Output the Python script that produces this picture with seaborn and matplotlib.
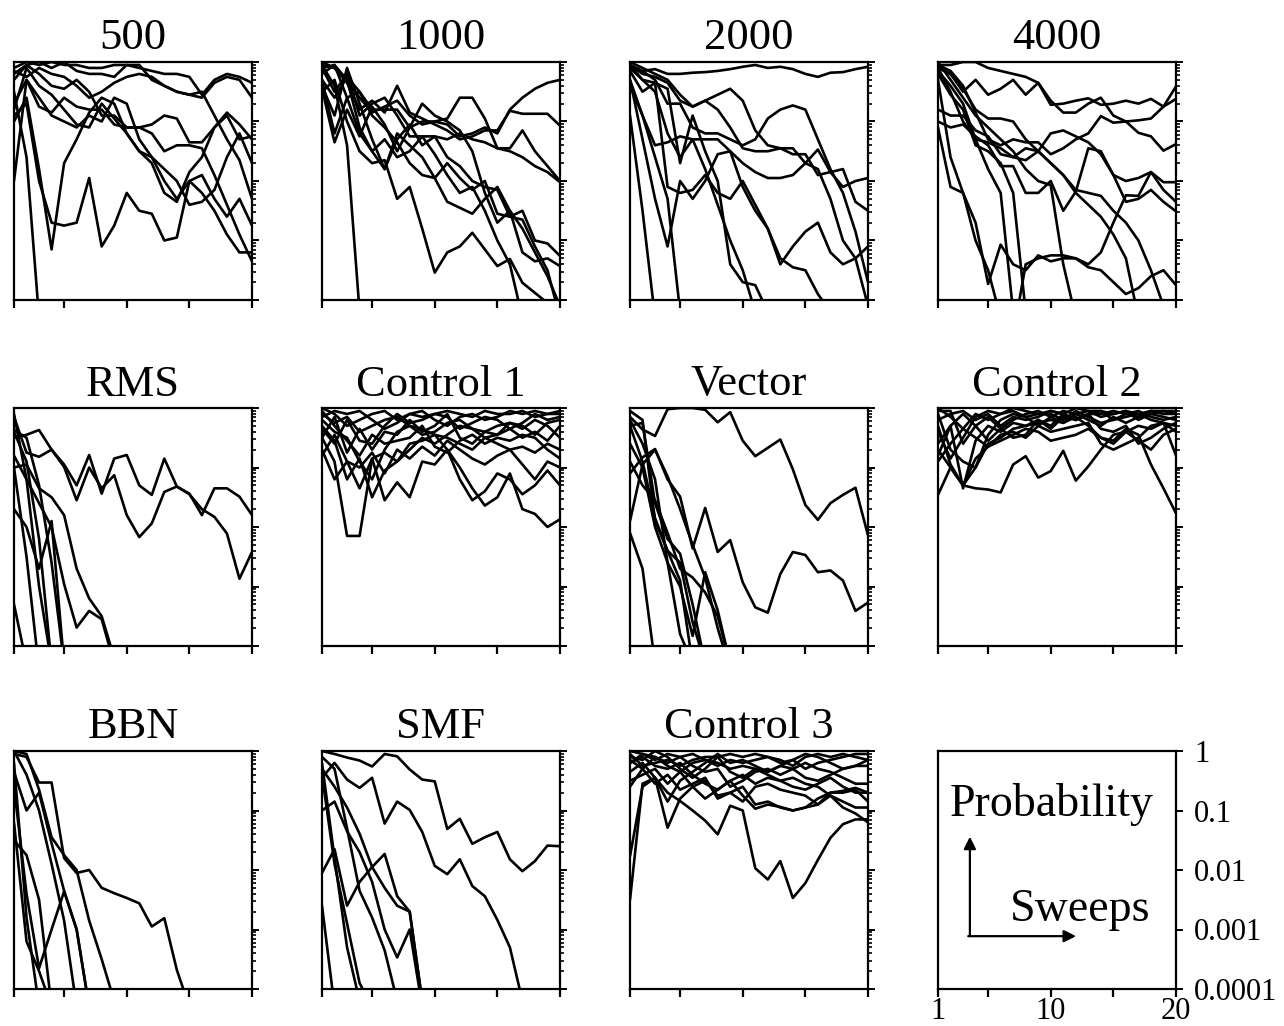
import numpy as np
import pandas as pd
import matplotlib
matplotlib.use("Agg")
import matplotlib.pyplot as plt
from matplotlib.ticker import LogLocator, NullFormatter, FixedLocator
import seaborn as sns

# Sweep index shared by every run
SWEEPS = list(range(1, 21))

# log10 of the probability per sweep, one row per run.
# Runs that die out end with a value below 1e-4 and stop there.
LOGP_500 = [
    [-0.1, 0.0, -0.05, 0.0, -0.05, -0.05, -0.1, -0.1, -0.05, -0.05, -0.1, -0.15, -0.2, -0.2, -0.25, -0.55, -0.3, -0.2, -0.25, -0.35],
    [-0.2, -0.05, 0.0, -0.1, 0.0, -0.15, -0.2, -0.2, -0.25, -0.05, -0.05, -0.3, -0.4, -0.5, -0.55, -0.6, -0.35, -0.25, -0.3, -0.6],
    [-0.7, -0.3, -0.75, -0.85, -0.6, -0.75, -0.8, -0.8, -1.05, -1.1, -1.1, -1.05, -0.9, -0.95, -1.35, -1.35, -1.1, -0.85, -1.05, -1.3],
    [-0.5, -1.6, -4.3],
    [-1.0, -0.6, -1.8, -3.15, -1.7, -1.3, -0.85, -0.6, -0.7, -1.2, -1.5, -1.6, -2.0, -2.3, -2.0, -2.2, -2.5, -2.9, -3.2, -3.2],
    [-0.9, -0.7, -2.0, -2.7, -2.75, -2.7, -1.95, -3.1, -2.75, -2.2, -2.5, -2.55, -3.0, -2.95, -2.0, -1.9, -2.3, -2.6, -2.3, -2.75],
    [-2.0, -0.3, -0.6, -0.9, -1.0, -1.1, -0.9, -1.0, -0.6, -0.7, -1.3, -1.6, -1.8, -2.0, -2.4, -2.35, -2.15, -1.6, -1.2, -1.7],
    [-0.8, -0.1, -0.4, -0.55, -0.8, -1.05, -1.1, -0.7, -0.95, -1.2, -1.5, -1.7, -2.2, -2.35, -1.85, -1.6, -1.1, -0.9, -1.3, -1.25],
    [-0.3, -0.05, -0.2, -0.4, -0.45, -0.3, -0.5, -0.9, -0.9, -1.1, -1.1, -1.2, -1.5, -1.4, -1.4, -1.45, -1.9, -2.4, -2.9, -3.35],
    [-0.15, -0.25, -0.1, -0.2, -0.25, -0.4, -0.6, -0.5, -0.35, -0.25, -0.2, -0.25, -0.4, -0.5, -0.55, -0.5, -0.9, -1.3, -1.65, -2.3],
]

LOGP_1000 = [
    [-0.1, -0.05, -0.3, -0.6, -0.85, -0.75, -0.65, -0.9, -1.05, -1.0, -0.95, -0.6, -0.6, -0.95, -1.45, -1.45, -1.15, -1.5, -1.75, -2.0],
    [-0.3, -0.6, -0.25, -0.5, -0.8, -0.8, -0.8, -1.1, -1.0, -1.0, -1.05, -1.25, -1.2, -1.1, -1.2, -0.8, -0.6, -0.45, -0.35, -0.3],
    [-0.05, -0.1, -0.35, -0.8, -0.65, -0.85, -0.4, -0.85, -0.95, -1.05, -1.15, -1.3, -1.25, -1.15, -1.15, -0.82, -0.87, -0.87, -0.87, -1.07],
    [0.0, -0.1, -0.3, -1.1, -1.5, -1.8, -1.3, -1.05, -1.4, -1.25, -1.6, -1.75, -2.0, -2.1, -2.15, -2.6, -2.65, -3.1, -3.5, -4.3],
    [-0.2, -0.05, -0.6, -1.2, -1.5, -1.3, -1.6, -1.5, -1.25, -1.55, -1.9, -2.2, -2.1, -2.5, -3.0, -3.4, -4.3],
    [-0.4, -0.9, -0.1, -0.7, -1.3, -1.8, -1.2, -1.4, -1.6, -1.95, -2.35, -2.45, -2.55, -2.3, -2.1, -2.5, -3.2, -3.35, -3.3, -3.43],
    [-0.5, -0.3, -1.0, -1.5, -1.7, -1.65, -2.3, -2.1, -2.8, -3.54, -3.2, -3.1, -2.87, -3.15, -3.43, -3.31, -3.71, -3.88, -4.05],
    [-0.05, -0.4, -1.4, -4.2],
    [-0.3, -1.2, -0.6, -0.5, -0.9, -1.1, -1.35, -1.7, -1.9, -1.95, -1.7, -1.95, -2.15, -2.0, -2.55, -2.6, -2.5, -3.0, -3.05, -3.26],
    [-0.45, -1.35, -0.8, -1.25, -0.75, -1.05, -1.5, -1.1, -0.7, -0.9, -1.0, -1.15, -1.5, -2.2, -2.7, -2.5, -2.8, -3.2, -3.6, -4.1],
    [-0.1, -0.5, -0.2, -0.9, -0.7, -0.6, -0.9, -1.25, -1.25, -1.25, -1.3, -1.2, -1.3, -1.35, -1.45, -1.5, -1.6, -1.75, -1.85, -2.02],
]

LOGP_2000 = [
    [-0.05, -0.15, -0.12, -0.2, -0.2, -0.18, -0.17, -0.15, -0.12, -0.08, -0.05, -0.1, -0.08, -0.12, -0.2, -0.25, -0.18, -0.17, -0.12, -0.08],
    [-0.05, -0.2, -0.25, -0.35, -0.65, -0.75, -0.65, -0.55, -0.45, -0.65, -1.15, -1.4, -1.45, -1.55, -1.55, -1.9, -1.85, -1.8, -2.35, -2.5],
    [-0.1, -0.15, -0.3, -0.7, -0.7, -1.1, -1.2, -1.2, -1.3, -1.4, -1.3, -0.95, -0.8, -0.73, -0.8, -1.3, -1.8, -2.2, -2.85, -3.7],
    [-0.4, -0.9, -1.4, -1.35, -1.25, -1.3, -1.3, -1.3, -1.5, -1.7, -1.85, -1.95, -1.95, -1.9, -1.7, -1.47, -1.85, -2.1, -2.0, -1.95],
    [-0.1, -0.3, -0.35, -2.1, -2.2, -2.15, -1.9, -2.2, -2.3, -2.0, -2.4, -2.8, -3.4, -3.1, -2.85, -2.7, -3.2, -3.4, -3.3, -3.1],
    [-0.9, -2.5, -4.3],
    [-0.3, -1.3, -2.3, -3.1, -2.0, -2.3, -2.0, -1.55, -1.5, -2.1, -2.5, -2.8, -3.3, -3.45, -3.5, -3.9, -4.2],
    [-0.15, -0.5, -0.35, -0.45, -1.7, -0.9, -1.5, -2.0, -3.4, -3.7, -3.75, -4.2],
    [-0.3, -0.9, -1.6, -2.3, -4.2],
    [-0.05, -0.3, -0.5, -1.2, -1.6, -1.3, -1.8, -2.4, -3.0, -3.5, -4.2],
    [0.0, -0.1, -0.2, -0.3, -0.55, -0.75, -0.65, -0.8, -1.1, -1.45, -1.5, -1.5, -1.45, -1.45, -1.7, -1.8, -2.3, -3.0, -3.3, -4.1],
]

LOGP_4000 = [
    [-0.05, -0.05, 0.0, 0.0, -0.1, -0.15, -0.2, -0.25, -0.35, -0.72, -0.7, -0.65, -0.61, -0.72, -0.7, -0.65, -0.7, -0.62, -0.75, -0.41],
    [-0.1, -0.2, -0.5, -0.3, -0.55, -0.45, -0.3, -0.55, -0.35, -0.65, -0.85, -0.85, -0.7, -0.6, -0.9, -1.0, -0.98, -0.95, -0.75, -0.62],
    [-0.05, -0.15, -0.4, -0.85, -1.3, -1.4, -1.3, -1.35, -1.35, -1.55, -1.45, -1.3, -1.2, -0.91, -1.02, -1.0, -1.19, -1.25, -1.49, -1.38],
    [-0.15, -0.4, -0.7, -1.3, -1.35, -1.45, -1.6, -1.65, -1.5, -1.2, -1.15, -1.25, -1.35, -1.55, -1.9, -2.0, -1.95, -1.85, -2.02, -2.02],
    [-1.0, -1.1, -1.05, -1.25, -1.4, -1.75, -1.75, -2.2, -2.2, -2.0, -2.5, -2.18, -1.45, -1.5, -1.9, -2.35, -2.3, -2.15, -2.35, -2.51],
    [-0.8, -0.9, -0.9, -1.15, -1.25, -1.55, -1.6, -1.45, -1.5, -1.7, -1.9, -2.15, -2.2, -2.25, -2.5, -2.7, -3.0, -3.5, -4.1],
    [-1.1, -2.1, -2.2, -2.7, -3.73, -3.07, -3.4, -3.5, -3.25, -3.35, -3.3, -3.3, -3.4, -3.2, -2.7, -2.24, -2.25, -1.85, -2.15, -2.35],
    [-0.1, -0.5, -1.0, -1.3, -1.8, -2.2, -4.2],
    [-0.2, -0.55, -0.8, -1.4, -1.5, -1.7, -2.2, -4.2],
    [0.0, -0.3, -0.6, -0.9, -1.1, -1.3, -1.5, -1.8, -2.0, -2.07, -3.4, -4.3],
    [-0.3, -1.6, -2.2, -3.0, -3.5, -4.3, -4.6, -3.4, -3.3, -3.25, -3.25, -3.3, -3.45, -3.5, -3.7, -3.9, -3.8, -3.6, -3.5, -3.75],
    [-0.1, -0.2, -0.45, -0.8, -0.95, -0.95, -1.0, -1.3, -1.5, -1.7, -1.9, -2.2, -2.4, -2.6, -2.9, -3.3, -4.3],
]

LOGP_RMS = [
    [-0.15, -0.75, -0.82, -0.7, -0.95, -1.3, -0.79, -1.44, -0.85, -0.79, -1.3, -1.46, -0.85, -1.32, -1.44, -1.8, -1.35, -1.35, -1.49, -1.8],
    [-0.5, -0.45, -0.37, -0.7, -0.99, -1.55, -1.0, -1.35, -1.13, -1.8, -2.17, -1.94, -1.41, -1.32, -1.45, -1.7, -1.83, -2.11, -2.87, -2.42],
    [-0.37, -0.5, -1.3, -2.6, -4.3],
    [-1.0, -0.95, -1.35, -1.5, -1.8, -2.7, -3.2, -3.5, -4.2],
    [-0.8, -1.2, -1.6, -2.0, -2.96, -3.69, -3.41, -3.55, -4.3],
    [-0.1, -1.2, -3.0, -4.3],
    [-1.7, -2.0, -2.7, -1.9, -4.3],
    [-0.4, -0.9, -2.2, -4.3],
    [-3.3, -4.3],
    [-1.0, -2.5, -4.4],
]

LOGP_CONTROL1 = [
    [-0.5, -0.9, -2.15, -2.15, -0.85, -0.75, -0.9, -0.7, -0.5, -0.6, -0.45, -0.3, -0.35, -0.5, -0.45, -0.35, -0.5, -0.4, -0.55, -0.3],
    [-0.7, -1.2, -0.9, -1.35, -0.85, -1.55, -1.25, -1.5, -0.9, -0.95, -0.7, -1.0, -1.35, -1.64, -1.5, -1.1, -1.7, -1.78, -2.0, -1.87],
    [-0.3, -0.55, -1.2, -0.85, -1.5, -1.05, -0.9, -0.6, -0.55, -0.45, -0.7, -1.2, -1.55, -1.4, -1.1, -1.2, -1.45, -1.3, -1.05, -1.3],
    [-0.2, -0.4, -0.5, -0.9, -1.2, -0.7, -0.4, -0.3, -0.35, -0.45, -0.5, -0.6, -0.7, -0.5, -0.6, -0.7, -0.65, -0.75, -0.6, -0.7],
    [-0.1, -0.25, -0.15, -0.4, -0.3, -0.2, -0.15, -0.3, -0.45, -0.4, -0.25, -0.2, -0.35, -0.4, -0.3, -0.25, -0.35, -0.2, -0.3, -0.5],
    [0.0, -0.1, -0.3, -0.2, -0.1, -0.05, -0.2, -0.1, -0.15, -0.1, -0.05, -0.1, -0.15, -0.05, -0.1, -0.1, -0.05, -0.15, -0.1, -0.1],
    [-0.15, -0.05, -0.1, -0.05, -0.2, -0.35, -0.25, -0.1, -0.05, -0.2, -0.3, -0.15, -0.1, -0.2, -0.15, -0.05, -0.1, -0.05, -0.1, -0.05],
    [-0.35, -0.6, -0.2, -0.55, -0.6, -0.3, -0.1, -0.25, -0.2, -0.1, -0.15, -0.35, -0.25, -0.15, -0.2, -0.35, -0.25, -0.1, -0.2, -0.15],
    [-0.05, -0.3, -0.55, -0.8, -0.45, -0.6, -0.55, -0.5, -0.3, -0.65, -0.75, -0.55, -0.45, -0.6, -0.5, -0.55, -0.45, -0.5, -0.7, -0.85],
    [-0.5, -0.15, -0.75, -0.35, -0.7, -0.4, -0.45, -0.2, -0.4, -0.3, -0.1, -0.5, -0.6, -0.4, -0.45, -0.25, -0.3, -0.45, -0.25, -0.2],
    [-0.8, -0.45, -0.9, -1.0, -0.75, -1.1, -0.7, -0.85, -0.65, -0.8, -0.55, -0.7, -0.85, -0.95, -0.8, -0.7, -0.95, -1.2, -0.9, -1.0],
]

LOGP_VECTOR = [
    [-0.15, -0.36, -0.47, -0.02, 0.0, 0.0, -0.03, -0.24, -0.07, -0.55, -0.81, -0.67, -0.53, -1.03, -1.63, -1.88, -1.6, -1.46, -1.34, -2.14],
    [-1.1, -0.83, -0.69, -1.2, -1.49, -2.36, -1.68, -2.42, -2.22, -2.93, -3.35, -3.44, -2.79, -2.42, -2.47, -2.76, -2.73, -2.9, -3.41, -3.27],
    [-0.05, -0.2, -1.9, -2.4, -2.6, -3.6, -4.3],
    [-0.3, -0.9, -1.85, -2.4, -2.9, -4.3],
    [-0.6, -1.0, -2.0, -2.6, -3.8, -4.3],
    [-0.2, -0.6, -1.2, -2.6, -3.0, -3.83, -2.76, -3.4, -4.3],
    [-0.9, -1.3, -1.55, -2.1, -2.7, -2.85, -3.1, -3.5, -4.3],
    [-1.9, -0.95, -0.7, -1.15, -1.7, -2.3, -2.85, -3.7, -4.4],
    [-2.1, -2.7, -4.3],
    [-0.3, -0.25, -1.6, -2.2, -2.45, -3.3, -4.3],
]

LOGP_CONTROL2 = [
    [-1.46, -1.0, -1.3, -1.35, -1.37, -1.42, -0.95, -0.81, -1.17, -1.06, -0.72, -1.22, -0.98, -0.7, -0.45, -0.4, -0.55, -0.7, -0.45, -0.35],
    [-0.3, -0.95, -1.3, -1.0, -0.6, -0.5, -0.35, -0.3, -0.25, -0.2, -0.25, -0.15, -0.3, -0.5, -0.55, -0.35, -0.45, -0.95, -1.35, -1.77],
    [-0.6, -0.3, -1.35, -0.55, -0.3, -0.4, -0.25, -0.3, -0.2, -0.35, -0.15, -0.2, -0.1, -0.35, -0.4, -0.3, -0.6, -0.5, -0.35, -0.25],
    [-0.1, -0.7, -0.9, -1.0, -0.45, -0.2, -0.1, -0.15, -0.1, -0.1, -0.2, -0.05, -0.15, -0.25, -0.2, -0.1, -0.15, -0.1, -0.05, -0.05],
    [-0.05, -0.05, -0.6, -0.3, -0.15, -0.35, -0.5, -0.45, -0.2, -0.3, -0.1, -0.2, -0.1, -0.05, -0.2, -0.15, -0.1, -0.2, -0.25, -0.8],
    [-0.8, -0.3, -0.1, -0.3, -0.55, -0.35, -0.2, -0.1, -0.05, -0.15, -0.05, -0.1, -0.05, -0.15, -0.1, -0.05, -0.2, -0.1, -0.15, -0.2],
    [-0.4, -0.85, -0.5, -0.15, -0.05, -0.1, -0.05, -0.15, -0.3, -0.15, -0.25, -0.1, -0.2, -0.3, -0.15, -0.25, -0.15, -0.05, -0.1, -0.1],
    [-0.2, -0.1, -0.05, -0.2, -0.1, -0.3, -0.15, -0.2, -0.15, -0.05, -0.1, -0.2, -0.1, -0.1, -0.05, -0.1, -0.05, -0.15, -0.2, -0.15],
    [-0.9, -0.6, -0.35, -0.5, -0.65, -0.45, -0.4, -0.5, -0.3, -0.4, -0.35, -0.3, -0.25, -0.6, -0.7, -0.6, -0.5, -0.3, -0.25, -0.3],
    [0.0, -0.15, -0.35, -0.1, -0.2, -0.1, 0.0, -0.05, -0.1, -0.05, -0.1, 0.0, -0.05, -0.05, -0.1, -0.05, -0.1, -0.05, -0.05, -0.1],
    [-0.7, -1.0, -1.3, -0.85, -0.65, -0.55, -0.45, -0.35, -0.4, -0.55, -0.5, -0.45, -0.35, -0.5, -0.6, -0.4, -0.3, -0.35, -0.25, -0.4],
]

LOGP_BBN = [
    [-0.05, -0.1, -0.53, -0.53, -1.8, -2.05, -2.0, -2.3, -2.39, -2.47, -2.56, -2.95, -2.81, -3.68, -4.3],
    [0.0, -0.05, -0.65, -1.45, -1.75, -2.0, -2.85, -3.5, -4.2],
    [-0.35, -1.0, -0.7, -1.55, -2.35, -3.0, -4.3],
    [-1.5, -1.75, -2.5, -4.3],
    [-1.2, -3.2, -3.7, -4.3],
    [-0.6, -2.4, -3.65, -3.0, -2.36, -3.0, -4.3],
    [-0.2, -2.8, -4.3],
    [0.0, -0.4, -1.0, -1.9, -2.85, -4.3],
]

LOGP_SMF = [
    [0.0, -0.05, -0.11, -0.16, -0.26, -0.05, -0.09, -0.31, -0.48, -0.51, -1.31, -1.14, -1.56, -1.45, -1.36, -1.82, -2.02, -1.85, -1.59, -1.6],
    [-0.45, -0.2, -0.48, -0.62, -0.45, -1.22, -0.85, -0.99, -1.36, -1.93, -2.07, -1.82, -2.27, -2.44, -2.84, -3.3, -4.2],
    [-2.05, -1.65, -2.6, -2.2, -1.95, -1.73, -2.44, -2.7, -4.2],
    [-1.0, -0.85, -1.35, -1.7, -2.2, -3.0, -3.47, -3.0, -4.3],
    [-0.3, -0.6, -0.95, -1.39, -1.95, -2.3, -2.6, -2.7, -4.2],
    [-0.2, -1.8, -3.3, -4.2],
    [-2.6, -4.3],
    [-0.4, -1.9, -2.9, -3.9, -4.3],
    [-0.1, -0.3, -1.3, -2.35, -2.8, -3.35, -4.2],
]

LOGP_CONTROL3 = [
    [-2.5, -0.55, -0.45, -0.7, -0.84, -1.0, -1.17, -1.4, -0.92, -1.0, -1.97, -2.16, -1.85, -2.47, -2.22, -1.83, -1.46, -1.23, -1.15, -1.15],
    [-1.77, -0.6, -0.45, -1.29, -0.8, -0.6, -0.5, -0.75, -0.7, -0.6, -0.9, -0.85, -0.95, -1.0, -0.95, -0.9, -0.7, -0.7, -0.65, -0.85],
    [-0.5, -0.4, -0.3, -0.55, -0.35, -0.6, -0.8, -0.65, -0.5, -0.75, -0.97, -0.9, -0.94, -1.0, -0.95, -0.8, -0.7, -0.67, -0.62, -0.7],
    [-0.2, -0.1, -0.25, -0.3, -0.2, -0.4, -0.55, -0.65, -0.5, -0.4, -0.55, -0.45, -0.5, -0.45, -0.55, -0.6, -0.75, -0.95, -1.05, -1.2],
    [-0.15, -0.3, -0.1, -0.25, -0.35, -0.2, -0.15, -0.2, -0.3, -0.25, -0.3, -0.4, -0.5, -0.6, -0.65, -0.55, -0.45, -0.6, -0.7, -0.7],
    [0.0, -0.05, -0.15, -0.05, -0.1, -0.05, -0.15, -0.25, -0.15, -0.2, -0.15, -0.1, -0.15, -0.25, -0.1, -0.05, -0.1, -0.05, -0.1, -0.15],
    [-0.1, -0.15, 0.0, -0.1, -0.3, -0.45, -0.3, -0.1, -0.35, -0.45, -0.3, -0.35, -0.25, -0.3, -0.45, -0.5, -0.4, -0.3, -0.25, -0.25],
    [-0.35, -0.2, -0.45, -0.85, -0.5, -0.35, -0.2, -0.05, -0.2, -0.15, -0.25, -0.35, -0.25, -0.15, -0.3, -0.2, -0.15, -0.1, -0.05, -0.05],
    [-0.05, -0.25, -0.2, -0.15, -0.25, -0.15, -0.1, -0.1, -0.05, -0.1, -0.05, -0.1, -0.2, -0.15, -0.05, -0.1, -0.2, -0.3, -0.25, -0.15],
    [-0.6, -0.3, -0.55, -0.4, -0.65, -0.55, -0.45, -0.8, -0.7, -0.85, -0.6, -0.55, -0.65, -0.7, -0.75, -0.9, -0.75, -0.85, -0.95, -0.95],
    [-0.2, -0.05, -0.1, -0.2, -0.1, -0.25, -0.35, -0.3, -0.6, -0.5, -0.35, -0.3, -0.4, -0.3, -0.2, -0.3, -0.35, -0.45, -0.55, -0.55],
]

TITLES = ["500", "1000", "2000", "4000",
          "RMS", "Control 1", "Vector", "Control 2",
          "BBN", "SMF", "Control 3"]
RUNS = [LOGP_500, LOGP_1000, LOGP_2000, LOGP_4000,
        LOGP_RMS, LOGP_CONTROL1, LOGP_VECTOR, LOGP_CONTROL2,
        LOGP_BBN, LOGP_SMF, LOGP_CONTROL3]

Y_TICKS = [1, 0.1, 0.01, 0.001, 0.0001]
Y_TICK_LABELS = ["1", "0.1", "0.01", "0.001", "0.0001"]
X_TICKS = [1, 5, 10, 15, 20]
X_TICK_LABELS = ["1", "", "10", "", "20"]


def long_table(runs):
    rows = []
    for run_id, run in enumerate(runs):
        if len(run) > len(SWEEPS):
            raise ValueError("run longer than sweep axis")
        for sweep, lp in zip(SWEEPS, run):
            rows.append((run_id, sweep, 10.0 ** lp))
    return pd.DataFrame(rows, columns=["run", "sweep", "prob"])


sns.set_style("ticks")
plt.rcParams["font.family"] = ["Liberation Serif", "DejaVu Serif"]
plt.rcParams["text.color"] = "black"
plt.rcParams["axes.labelcolor"] = "black"
plt.rcParams["axes.titlecolor"] = "black"
plt.rcParams["xtick.color"] = "black"
plt.rcParams["ytick.color"] = "black"
plt.rcParams["axes.linewidth"] = 1.6
plt.rcParams["xtick.major.width"] = 1.6
plt.rcParams["ytick.major.width"] = 1.4
plt.rcParams["ytick.minor.width"] = 1.2

W, H = 1284, 1026
fig = plt.figure(figsize=(W / 100, H / 100), dpi=100)

COL_LEFT = [14, 322, 630, 938]
ROW_TOP = [62, 408, 751]
BOX = 238


def make_axes(col, row):
    left = COL_LEFT[col] / W
    bottom = 1 - (ROW_TOP[row] + BOX) / H
    return fig.add_axes([left, bottom, BOX / W, BOX / H])


def style_axes(ax, show_labels=False):
    ax.set_yscale("log")
    ax.set_xlim(1, 20)
    ax.set_ylim(1e-4, 1)
    ax.yaxis.tick_right()
    ax.yaxis.set_major_locator(FixedLocator(Y_TICKS))
    ax.yaxis.set_minor_locator(LogLocator(base=10, subs=np.arange(2, 10)))
    ax.yaxis.set_minor_formatter(NullFormatter())
    ax.xaxis.set_major_locator(FixedLocator(X_TICKS))
    ax.tick_params(axis="x", direction="out", length=6, bottom=True, top=False)
    ax.tick_params(axis="y", which="major", direction="out", length=5, right=True, left=False)
    ax.tick_params(axis="y", which="minor", direction="out", length=3, right=True, left=False)
    if show_labels:
        ax.set_yticklabels(Y_TICK_LABELS)
        ax.set_xticklabels(X_TICK_LABELS)
        ax.tick_params(axis="y", which="major", labelsize=22, pad=8)
        ax.tick_params(axis="x", labelsize=22, pad=0)
    else:
        ax.set_yticklabels([])
        ax.set_xticklabels([])
    ax.set_xlabel("")
    ax.set_ylabel("")
    for s in ax.spines.values():
        s.set_visible(True)
        s.set_color("black")


for i, (title, runs) in enumerate(zip(TITLES, RUNS)):
    row, col = divmod(i, 4)
    ax = make_axes(col, row)
    data = long_table(runs)
    sns.lineplot(data=data, x="sweep", y="prob", units="run", estimator=None,
                 color="black", linewidth=1.9, ax=ax, legend=False)
    style_axes(ax)
    ax.set_title(title, fontsize=32, pad=9, color="black")

# Key panel: axis ranges and directions shared by all panels
key = make_axes(3, 2)
style_axes(key, show_labels=True)
key.text(0.05, 0.774, "Probability", transform=key.transAxes, fontsize=33,
         ha="left", va="center")
key.text(0.30, 0.335, "Sweeps", transform=key.transAxes, fontsize=33,
         ha="left", va="center")
arrow = dict(arrowstyle="-|>", color="black", lw=1.6, mutation_scale=18,
             shrinkA=0, shrinkB=0)
key.annotate("", xy=(0.134, 0.64), xytext=(0.134, 0.222),
             xycoords="axes fraction", textcoords="axes fraction", arrowprops=arrow)
key.annotate("", xy=(0.58, 0.222), xytext=(0.127, 0.222),
             xycoords="axes fraction", textcoords="axes fraction", arrowprops=arrow)

fig.savefig("out.png", dpi=100, facecolor="white")
